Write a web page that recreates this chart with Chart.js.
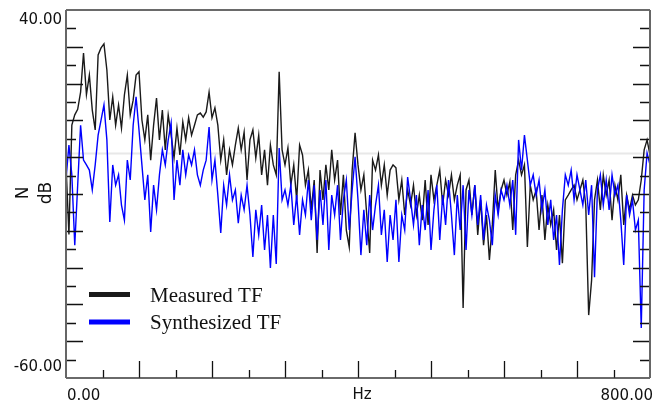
<!DOCTYPE html>
<html>
<head>
<meta charset="utf-8">
<script src="https://cdn.jsdelivr.net/npm/chart.js@4/dist/chart.umd.min.js"></script>
<style>
  body { margin: 0; background: #fff; }
  #wrap { width: 666px; height: 403px; }
</style>
</head>
<body>
<div id="wrap"><canvas id="tf" width="666" height="403"></canvas></div>
<script>
// frequency grid, Hz (one point every 4 Hz, 0..800)
const freqStep = 4;
const freqs = Array.from({ length: 201 }, (_, i) => i * freqStep);

// measured transfer function, dB
const measuredTF = [
  -2, -21, 8.7, 11.5, 13, 17.7, 28.3, 17, 22.3, 12.8,
  7.4, 27.8, 29.7, 30.8, 23.7, 10.1, 16.4, 8.7, 14.2, 7.9,
  16.9, 22.3, 11.5, 15.5, 22.3, 23.2, 10.1, 4.7, 11.5, -0.8,
  8.7, 16.1, 4.7, 12.8, 2.0, 11.5, 6.0, -0.2, 7.9, 0.6,
  9.6, 4.7, 10.7, 6.0, 8.7, 11.5, 12.0, 10.9, 12.3, 17.7,
  10.7, 13.4, 8.7, -0.8, 4.7, -4.8, 2.0, -2.1, 3.3, 7.9,
  2.0, 6.8, -6.2, 4.7, 7.4, -0.2, 6.0, -4.8, 2.0, -7.6,
  3.3, -2.1, -4.8, 23.2, 2.0, -2.1, 2.5, -7.6, -2.1, -11.6,
  3.3, 0.6, -7.6, -3.5, -14.3, -6.2, -26.0, -3.5, -11.6, -2.1,
  -8.9, 2.0, -6.2, -0.8, -15.7, -4.8, -19.8, -24.4, -3.5, 6.6,
  -2.1, -8.9, -4.8, -15.7, -26.0, -0.8, -3.5, 0.6, -7.6, -2.1,
  -10.3, -3.5, -2.1, -2.9, -11.6, -6.2, -15.7, -8.9, -13.0, -7.6,
  -15.7, -10.3, -17.1, -6.2, -18.4, -4.8, -11.6, -7.6, -3.5, -13.0,
  -6.2, -10.3, -4.8, -11.6, -7.6, -4.8, -41.0, -8.9, -6.2, -15.7,
  -7.6, -21.1, -11.6, -23.9, -15.7, -27.9, -18.4, -3.5, -14.3, -8.9,
  -6.2, -10.3, -6.7, -19.8, -4.8, -0.8, -4.8, -2.1, -24.4, -7.6,
  -11.6, -8.9, -19.8, -10.3, -22.5, -13.0, -18.4, -14.3, -25.2, -15.7,
  -28.8, -11.6, -10.3, -8.9, -7.6, -11.6, -8.9, -6.2, -13.0, -42.9,
  -33.4, -11.6, -6.2, -14.3, -4.8, -10.3, -6.2, -17.1, -7.6, -11.6,
  -4.8, -18.4, -10.3, -14.3, -10.3, -13.0, -11.6, -6.2, 2.0, 4.7,
  0.6
];

// synthesized transfer function, dB
const synthesizedTF = [
  -6, 3.3, -4.8, -23.9, -7.6, 8.7, -0.8, -2.1, -3.5, -8.9,
  -2.1, 6.0, 10.1, 14.2, 4.7, -17.6, -2.1, -7.6, -4.8, -13.0,
  -17.1, -0.8, -6.2, 8.7, 16.4, 7.4, -2.1, -11.6, -4.8, -20.3,
  -7.6, -14.3, -4.8, 2.0, -2.1, 4.7, 9.3, -11.6, -0.8, -7.6,
  2.0, -4.8, 0.6, -2.1, 2.0, -4.8, -7.6, -3.5, -0.8, 8.2,
  -6.2, -0.8, -10.3, -20.6, -7.6, -13.0, -4.8, -11.6, -8.9, -17.9,
  -10.3, -14.3, -7.6, -15.7, -27.1, -14.3, -21.1, -13.0, -25.2, -15.7,
  -30.1, -15.7, -29.0, 2.5, -11.6, -8.9, -13.0, -7.6, -18.4, -10.3,
  -21.1, -11.6, -15.7, -6.2, -17.1, -7.6, -22.5, -8.9, -18.4, -6.2,
  -25.2, -10.3, -15.7, -7.6, -22.5, -11.6, -6.2, -19.8, -8.9, 0.1,
  -11.6, -26.6, -14.3, -23.9, -10.3, -19.8, -13.0, -7.6, -21.1, -14.3,
  -28.5, -15.7, -22.5, -11.6, -28.5, -15.7, -19.8, -5.4, -11.6, -18.4,
  -10.3, -23.9, -13.0, -19.8, -8.9, -25.2, -14.3, -7.6, -22.5, -10.3,
  -18.4, -6.2, -15.7, -26.6, -10.3, -19.8, -7.6, -25.2, -8.9, -15.7,
  -7.6, -18.4, -10.3, -22.5, -13.0, -17.1, -23.9, -10.3, -15.7, -8.9,
  -11.6, -7.6, -13.0, -6.2, -21.1, 4.7, -3.5, 6.0, -0.8, -7.6,
  -4.8, -10.3, -6.2, -14.3, -8.9, -18.4, -11.6, -22.5, -15.7, -29.3,
  -14.3, -4.8, -7.6, -3.5, -11.6, -4.8, -8.9, -13.0, -6.2, -15.7,
  -7.6, -32.6, -8.9, -4.8, -13.0, -6.2, -14.3, -4.8, -10.3, -7.6,
  -17.1, -29.3, -10.3, -15.7, -11.6, -19.8, -17.1, -46.4, -8.9, 1.1,
  -2.1
];

const yLabels = ["40.00", "-60.00"];
const xLabels = ["0.00", "800.00"];
const refLevel = 1; // light reference line

const toPoints = (vals) => vals.map((v, i) => ({ x: freqs[i], y: v }));

// frame, inward ticks, labels and legend, drawn like the original plot
const axisFrame = {
  id: "axisFrame",
  beforeDatasetsDraw(chart) {
    const { ctx, chartArea: a, scales: { y } } = chart;
    const gy = y.getPixelForValue(refLevel);
    ctx.save();
    ctx.strokeStyle = "#e8e8e8";
    ctx.lineWidth = 2;
    ctx.beginPath();
    ctx.moveTo(a.left, gy);
    ctx.lineTo(a.right, gy);
    ctx.stroke();
    ctx.restore();
  },
  afterDatasetsDraw(chart) {
    const { ctx, chartArea: a, scales: { x, y } } = chart;
    ctx.save();

    // ticks
    ctx.strokeStyle = "#111";
    ctx.lineWidth = 1.3;
    ctx.beginPath();
    for (let v = y.min + 5; v < y.max; v += 5) {
      const py = Math.round(y.getPixelForValue(v)) + 0.5;
      const len = v % 10 === 0 ? 17 : 10;
      ctx.moveTo(a.left, py); ctx.lineTo(a.left + len, py);
      ctx.moveTo(a.right, py); ctx.lineTo(a.right - len, py);
    }
    for (let v = x.min + 50; v < x.max; v += 50) {
      const px = Math.round(x.getPixelForValue(v)) + 0.5;
      const len = v % 100 === 0 ? 17 : 8;
      ctx.moveTo(px, a.bottom); ctx.lineTo(px, a.bottom - len);
    }
    ctx.stroke();

    // frame
    ctx.strokeStyle = "#3a3a3a";
    ctx.lineWidth = 1.5;
    ctx.beginPath();
    ctx.moveTo(a.left, a.top); ctx.lineTo(a.right, a.top);
    ctx.moveTo(a.left, a.bottom); ctx.lineTo(a.right, a.bottom);
    ctx.stroke();
    ctx.strokeStyle = "#666";
    ctx.lineWidth = 2;
    ctx.beginPath();
    ctx.moveTo(a.left, a.top); ctx.lineTo(a.left, a.bottom);
    ctx.moveTo(a.right, a.top); ctx.lineTo(a.right, a.bottom);
    ctx.stroke();

    // tick labels
    ctx.fillStyle = "#111";
    ctx.font = '15px "DejaVu Sans"';
    ctx.textBaseline = "middle";
    ctx.textAlign = "right";
    ctx.fillText(yLabels[0], a.left - 4, y.getPixelForValue(y.max) + 10);
    ctx.fillText(yLabels[1], a.left - 4, y.getPixelForValue(y.min) - 11);
    ctx.textAlign = "left";
    ctx.fillText(xLabels[0], x.getPixelForValue(x.min) + 1, a.bottom + 18);
    ctx.textAlign = "right";
    ctx.fillText(xLabels[1], x.getPixelForValue(x.max) + 3, a.bottom + 18);
    ctx.textAlign = "center";
    ctx.fillText("Hz", (a.left + a.right) / 2 + 4, a.bottom + 17);

    // y title, two rotated lines
    ctx.font = '17px "DejaVu Sans"';
    const my = (a.top + a.bottom) / 2;
    [["N", 24], ["dB", 47]].forEach(([t, tx]) => {
      ctx.save();
      ctx.translate(tx, my - 1);
      ctx.rotate(-Math.PI / 2);
      ctx.fillText(t, 0, 0);
      ctx.restore();
    });

    // legend inside the plot
    const items = chart.data.datasets;
    ctx.font = '21px "Liberation Serif", "Times New Roman", serif';
    ctx.textAlign = "left";
    ctx.textBaseline = "alphabetic";
    items.slice().reverse().forEach((ds, k) => {
      const ly = 294.5 + k * 27.5;
      ctx.strokeStyle = ds.borderColor;
      ctx.lineWidth = 5;
      ctx.beginPath();
      ctx.moveTo(89, ly); ctx.lineTo(130, ly);
      ctx.stroke();
      ctx.fillStyle = "#111";
      ctx.fillText(ds.label, 150, ly + 7);
    });

    ctx.restore();
  }
};

new Chart(document.getElementById("tf"), {
  type: "line",
  data: {
    datasets: [
      {
        label: "Synthesized TF",
        data: toPoints(synthesizedTF),
        borderColor: "#0000ff",
        borderWidth: 1.4,
        pointRadius: 0,
        tension: 0,
        order: 1,
      },
      {
        label: "Measured TF",
        data: toPoints(measuredTF),
        borderColor: "#1a1a1a",
        borderWidth: 1.4,
        pointRadius: 0,
        tension: 0,
        order: 2,
      },
    ],
  },
  options: {
    responsive: false,
    animation: false,
    devicePixelRatio: 1,
    layout: { padding: { left: 66, right: 16, top: 10, bottom: 25 } },
    plugins: { legend: { display: false }, tooltip: { enabled: false } },
    scales: {
      x: { type: "linear", min: 0, max: 800, display: false },
      y: { type: "linear", min: -60, max: 40, display: false },
    },
  },
  plugins: [axisFrame],
});
</script>
</body>
</html>
